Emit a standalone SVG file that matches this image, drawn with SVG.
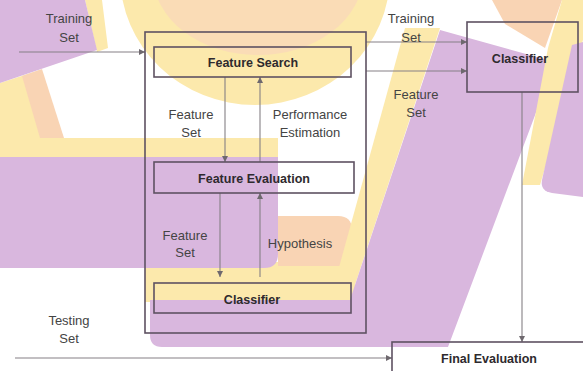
<svg xmlns="http://www.w3.org/2000/svg" width="583" height="371" viewBox="0 0 583 371">
<defs>
<style>
.p{fill:#d9b7de}
.y{fill:#fce9ac}
.k{fill:#f9d4b4}
.box{fill:none;stroke:#5e5262;stroke-width:1.6}
.ln{fill:none;stroke:#858085;stroke-width:1.1}
.t{font-family:"Liberation Sans",Arial,sans-serif;font-size:13px;fill:#444;text-anchor:middle}
.b{font-family:"Liberation Sans",Arial,sans-serif;font-size:12.5px;font-weight:bold;fill:#2e2a2e;text-anchor:middle}
</style>
<marker id="ah" viewBox="0 0 6 6" refX="6" refY="3" markerWidth="6" markerHeight="6" markerUnits="userSpaceOnUse" orient="auto">
<path d="M0,0 L6,3 L0,6 z" fill="#6e686e"/>
</marker>
</defs>
<rect width="583" height="371" fill="#ffffff"/>
<g id="background">
<ellipse class="y" cx="255" cy="-25" rx="135" ry="130"/>
<ellipse fill="#fadcb6" cx="258" cy="-25" rx="105" ry="80"/>
<polygon class="y" points="0,83 40,70 60,138 0,138"/>
<polygon class="k" points="22,76 42,69 64,138 40,138"/>
<polygon class="y" points="85,0 102,0 108,48 97,52"/>
<polygon class="p" points="0,0 85,0 97,50 0,83"/>
<rect class="y" x="0" y="138" width="278" height="20"/>
<rect class="y" x="145" y="262" width="210" height="40"/>
<path class="k" d="M278,216 H338 Q352,216 352,230 V266 H278 Z"/>
<polygon class="y" points="405,28 440,28 350,300 330,300"/>
<path class="p" d="M278,157 V254 Q278,268 264,268 H0 V157 Z"/>
<path class="p" d="M440,30 L555,62 L448,347 H162 Q150,347 150,335 V300 H350 Z"/>
<polygon class="k" points="492,0 562,0 545,48 505,24"/>
<polygon class="y" points="562,0 583,0 583,40 540,185 522,185 548,48"/>
<path class="p" d="M572,45 L583,42 V197 L552,193 Q540,191 542,180 Z"/>
</g>
<g id="connectors">
<line class="ln" x1="19" y1="52" x2="145" y2="52" marker-end="url(#ah)"/>
<line class="ln" x1="366" y1="42" x2="467" y2="42" marker-end="url(#ah)"/>
<line class="ln" x1="366" y1="71" x2="467" y2="71" marker-end="url(#ah)"/>
<line class="ln" x1="225" y1="77" x2="225" y2="162" marker-end="url(#ah)"/>
<line class="ln" x1="260" y1="162" x2="260" y2="77" marker-end="url(#ah)"/>
<line class="ln" x1="220" y1="193" x2="220" y2="277" marker-end="url(#ah)"/>
<line class="ln" x1="260" y1="277" x2="260" y2="193" marker-end="url(#ah)"/>
<line class="ln" x1="522" y1="92" x2="522" y2="342" marker-end="url(#ah)"/>
<line class="ln" x1="15" y1="358" x2="392" y2="358" marker-end="url(#ah)"/>
</g>
<g id="outer-box"><rect class="box" x="145" y="32" width="221" height="301"/></g>
<g id="feature-search"><rect class="box" x="154" y="47" width="197" height="30"/><text class="b" x="253" y="66.5">Feature Search</text></g>
<g id="feature-evaluation"><rect class="box" x="154" y="162" width="200" height="31"/><text class="b" x="254" y="182.5">Feature Evaluation</text></g>
<g id="classifier-inner"><rect class="box" x="154" y="283" width="197" height="30"/><text class="b" x="252" y="303.5">Classifier</text></g>
<g id="classifier-right"><rect class="box" x="467" y="22" width="111" height="70"/><text class="b" x="520" y="62.5">Classifier</text></g>
<g id="final-evaluation"><rect class="box" x="392" y="342" width="200" height="40"/><text class="b" x="489" y="362.5">Final Evaluation</text></g>
<g id="labels">
<text class="t" x="69" y="22.5">Training</text><text class="t" x="69" y="41.5">Set</text>
<text class="t" x="411" y="22.5">Training</text><text class="t" x="411" y="41.5">Set</text>
<text class="t" x="191" y="118.5">Feature</text><text class="t" x="191" y="136.5">Set</text>
<text class="t" x="310" y="118.5">Performance</text><text class="t" x="310" y="136.5">Estimation</text>
<text class="t" x="416" y="98.5">Feature</text><text class="t" x="416" y="116.5">Set</text>
<text class="t" x="185" y="239.5">Feature</text><text class="t" x="185" y="256.5">Set</text>
<text class="t" x="300" y="247.5">Hypothesis</text>
<text class="t" x="69" y="324.5">Testing</text><text class="t" x="69" y="342.5">Set</text>
</g>
</svg>
